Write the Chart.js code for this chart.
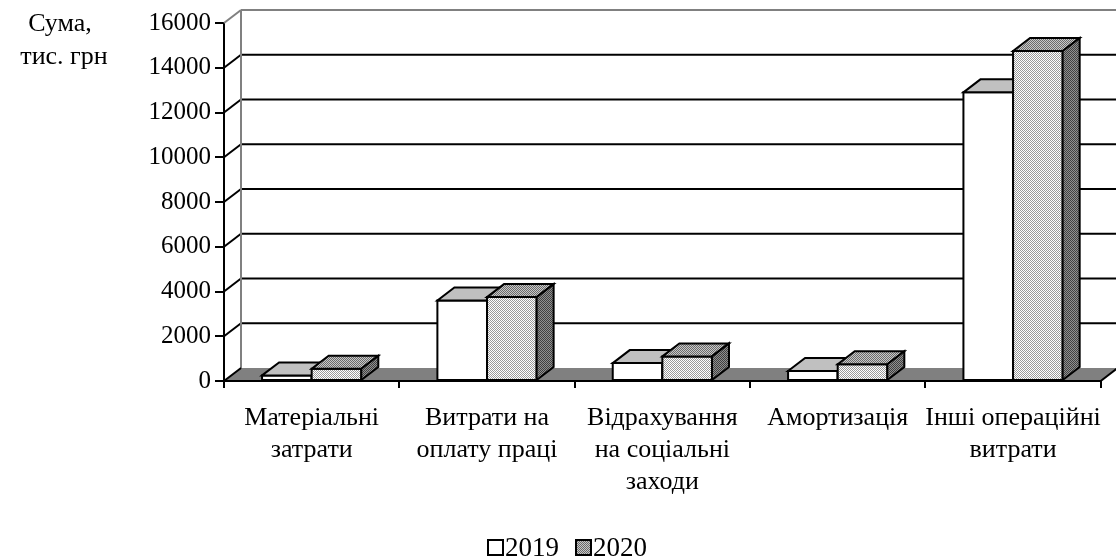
<!DOCTYPE html>
<html><head><meta charset="utf-8">
<script src="https://cdn.jsdelivr.net/npm/chart.js@4.4.0/dist/chart.umd.min.js"></script>
<style>html,body{margin:0;padding:0;background:#fff}#wrap{width:1116px;height:560px}</style>
</head><body><div id="wrap"><canvas id="c" width="1116" height="560"></canvas></div>
<script>
const categories = [["Матеріальні","затрати"],["Витрати на","оплату праці"],["Відрахування","на соціальні","заходи"],["Амортизація"],["Інші операційні","витрати"]];
const values2019 = [250, 3600, 800, 450, 12900];
const values2020 = [550, 3750, 1100, 750, 14750];
const seriesNames = ["2019", "2020"];
const yTicks = [0, 2000, 4000, 6000, 8000, 10000, 12000, 14000, 16000];
const yTitle = ["Сума,", "тис. грн"];

const FONT = "'Liberation Serif', 'Times New Roman', serif";
const DX = 17, DY = 13;

function makePattern(c1, c2) {
  const pc = document.createElement('canvas');
  pc.width = 2; pc.height = 2;
  const p = pc.getContext('2d');
  p.fillStyle = c1; p.fillRect(0, 0, 2, 2);
  p.fillStyle = c2; p.fillRect(0, 0, 1, 1); p.fillRect(1, 1, 1, 1);
  return p.createPattern(pc, 'repeat');
}
const pFront = makePattern('#ffffff', '#9a9a9a');
const pTop = makePattern('#c8c8c8', '#6a6a6a');
const pSide = makePattern('#909090', '#404040');
const faceStyles = [
  {front: '#ffffff', top: '#c0c0c0', side: '#808080'},
  {front: pFront, top: pTop, side: pSide}
];

function line(ctx, x1, y1, x2, y2) {
  ctx.beginPath(); ctx.moveTo(x1, y1); ctx.lineTo(x2, y2); ctx.stroke();
}
function poly(ctx, pts, fill) {
  ctx.beginPath();
  ctx.moveTo(pts[0][0], pts[0][1]);
  for (let k = 1; k < pts.length; k++) ctx.lineTo(pts[k][0], pts[k][1]);
  ctx.closePath();
  ctx.fillStyle = fill; ctx.fill();
  ctx.stroke();
}

const threeD = {
  id: 'threeD',
  beforeDatasetsDraw(chart) {
    const ctx = chart.ctx, a = chart.chartArea, y = chart.scales.y;
    const y0 = y.getPixelForValue(0), yTop = y.getPixelForValue(yTicks[yTicks.length - 1]);
    ctx.save();
    ctx.lineCap = 'butt'; ctx.lineJoin = 'miter';
    ctx.fillStyle = '#808080';
    ctx.beginPath();
    ctx.moveTo(a.left, y0); ctx.lineTo(a.right, y0); ctx.lineTo(a.right + DX, y0 - DY); ctx.lineTo(a.left + DX, y0 - DY);
    ctx.closePath(); ctx.fill();
    ctx.lineWidth = 2; ctx.strokeStyle = '#000';
    yTicks.forEach(v => {
      if (v === 0 || v === yTicks[yTicks.length - 1]) return;
      const py = y.getPixelForValue(v);
      line(ctx, a.left, py, a.left + DX, py - DY);
      line(ctx, a.left + DX, py - DY, chart.width + 5, py - DY);
    });
    ctx.strokeStyle = '#808080';
    line(ctx, a.left, yTop, a.left + DX, yTop - DY);
    line(ctx, a.left + DX, yTop - DY, chart.width + 5, yTop - DY);
    line(ctx, a.left + DX, yTop - DY, a.left + DX, y0 - DY);
    ctx.strokeStyle = '#000';
    line(ctx, a.left, y0, a.left + DX, y0 - DY);
    line(ctx, a.right, y0, a.right + DX, y0 - DY);
    line(ctx, a.left - 1, y0, a.right + 1, y0);
    const metas = [chart.getDatasetMeta(0), chart.getDatasetMeta(1)];
    for (let i = 0; i < categories.length; i++) {
      metas.forEach((m, di) => {
        const p = m.data[i].getProps(['x', 'y', 'base', 'width'], true);
        const l = p.x - p.width / 2, r = p.x + p.width / 2, t = p.y, b = p.base;
        const st = faceStyles[di];
        poly(ctx, [[l, t], [r, t], [r, b], [l, b]], st.front);
        poly(ctx, [[l, t], [l + DX, t - DY], [r + DX, t - DY], [r, t]], st.top);
        poly(ctx, [[r, t], [r + DX, t - DY], [r + DX, b - DY], [r, b]], st.side);
      });
    }
    ctx.restore();
    return false;
  },
  afterDraw(chart) {
    const ctx = chart.ctx;
    ctx.save();
    ctx.fillStyle = '#000';
    ctx.font = "26px " + FONT;
    ctx.textAlign = 'center';
    ctx.textBaseline = 'alphabetic';
    ctx.fillText(yTitle[0], 60, 31);
    ctx.fillText(yTitle[1], 64, 64);
    // legend
    ctx.font = "27px " + FONT;
    ctx.textAlign = 'left';
    ctx.lineWidth = 2; ctx.strokeStyle = '#000';
    let lx = 488;
    const boxTop = 540, box = 15;
    chart.data.datasets.forEach((ds, di) => {
      ctx.fillStyle = di === 0 ? '#ffffff' : pTop;
      ctx.fillRect(lx, boxTop, box, box);
      ctx.strokeRect(lx, boxTop, box, box);
      ctx.fillStyle = '#000';
      ctx.fillText(ds.label, lx + box + 2, 556);
      lx += box + 2 + ctx.measureText(ds.label).width + 17;
    });
    ctx.restore();
  }
};

new Chart(document.getElementById('c'), {
  type: 'bar',
  data: {
    labels: categories,
    datasets: [
      {label: seriesNames[0], data: values2019, backgroundColor: '#ffffff', borderColor: '#000', borderWidth: 2},
      {label: seriesNames[1], data: values2020, backgroundColor: pTop, borderColor: '#000', borderWidth: 2}
    ]
  },
  options: {
    responsive: false,
    animation: false,
    devicePixelRatio: 1,
    layout: {padding: {left: 0, right: 12, top: 23, bottom: 0}},
    datasets: {bar: {barPercentage: 1, categoryPercentage: 0.566}},
    plugins: {
      tooltip: {enabled: false},
      legend: {display: false}
    },
    scales: {
      x: {
        grid: {drawOnChartArea: false, drawTicks: true, tickLength: 7, color: '#000', lineWidth: 2, offset: true},
        border: {display: true, color: '#000', width: 2},
        ticks: {color: '#000', font: {family: FONT, size: 26, lineHeight: 1.23}, padding: 14, maxRotation: 0, autoSkip: false},
        afterFit(s) { s.height = 560 - 381; }
      },
      y: {
        min: 0, max: 16000,
        grid: {drawOnChartArea: false, drawTicks: true, tickLength: 9, color: '#000', lineWidth: 2},
        border: {display: true, color: '#000', width: 2},
        ticks: {color: '#000', font: {family: FONT, size: 25}, padding: 4, callback: v => String(v)},
        afterBuildTicks(s) { s.ticks = yTicks.map(v => ({value: v})); },
        afterFit(s) { s.width = 224; }
      }
    }
  },
  plugins: [threeD]
});
</script>
</body></html>
